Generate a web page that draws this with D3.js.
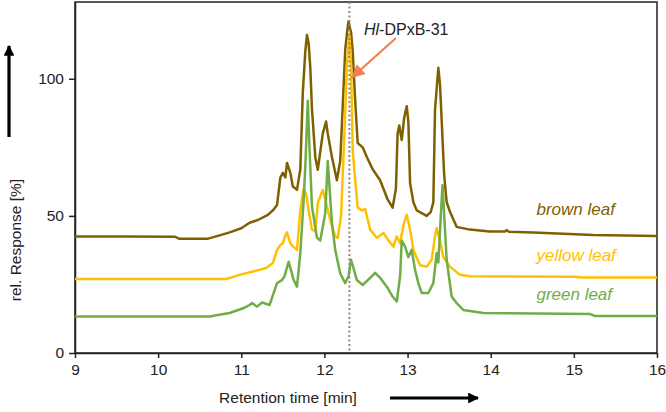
<!DOCTYPE html>
<html>
<head>
<meta charset="utf-8">
<script src="https://cdn.jsdelivr.net/npm/d3@7"></script>
<style>
  body { margin: 0; background: #fff; }
  svg { font-family: "Liberation Sans", Arial, sans-serif; }
</style>
</head>
<body>
<div class="chart"></div>
<script>
// Chromatogram traces, [retention time (min), rel. response (%)]
var brownLeaf = [
    [9.0, 42.5], [9.6, 42.5], [10.2, 42.4], [10.25, 41.7], [10.6, 41.7], [10.75, 43], [10.86, 44.0],
    [11.0, 45.5], [11.1, 47.5], [11.2, 48.5], [11.32, 50.4], [11.38, 52], [11.43, 54], [11.47, 64],
    [11.50, 65.7], [11.53, 64], [11.55, 69.3], [11.59, 65.7], [11.62, 60.7], [11.67, 59.5], [11.71, 67],
    [11.74, 95], [11.77, 110], [11.79, 116], [11.81, 113], [11.83, 104], [11.85, 89], [11.89, 71.5],
    [11.92, 66.8], [11.98, 80], [12.02, 84.4], [12.04, 80], [12.09, 71.5], [12.15, 63], [12.19, 70],
    [12.22, 90], [12.25, 110.6], [12.28, 119], [12.29, 121], [12.31, 118], [12.32, 117], [12.34, 110],
    [12.37, 92], [12.40, 76.6], [12.46, 75], [12.51, 71.5], [12.58, 67], [12.67, 63], [12.76, 56],
    [12.82, 53], [12.86, 60], [12.88, 80], [12.90, 83], [12.93, 77.7], [12.96, 86], [12.99, 90],
    [13.01, 84], [13.03, 62], [13.07, 55], [13.11, 52], [13.23, 50], [13.28, 51.5], [13.31, 55],
    [13.33, 88.7], [13.37, 104], [13.39, 98], [13.41, 85], [13.44, 65], [13.47, 55], [13.51, 51.5],
    [13.59, 46], [13.75, 45], [13.99, 44.3], [14.17, 44.3], [14.19, 44.8], [14.22, 44.2], [14.51, 43.9],
    [15.23, 43], [16.0, 42.7]
];

var yellowLeaf = [
    [9.0, 27], [10.82, 27], [10.98, 28.5], [11.14, 29.7], [11.30, 31], [11.38, 32.8], [11.43, 37.6],
    [11.47, 39.4], [11.50, 40], [11.52, 42], [11.55, 44], [11.59, 40], [11.62, 38.8], [11.67, 37.6],
    [11.71, 52], [11.75, 60], [11.78, 58], [11.81, 52], [11.85, 45], [11.89, 44.4], [11.92, 54.7],
    [11.98, 59.5], [12.02, 54.7], [12.07, 48.5], [12.13, 42.5], [12.16, 42], [12.20, 50], [12.24, 80],
    [12.27, 105], [12.30, 116], [12.32, 105], [12.34, 74], [12.37, 63], [12.40, 53], [12.45, 52],
    [12.49, 52.5], [12.55, 45], [12.63, 42], [12.71, 43.8], [12.77, 41], [12.83, 38.8], [12.87, 42.5],
    [12.91, 40], [12.95, 46.7], [12.99, 50.4], [13.03, 45], [13.07, 37.6], [13.15, 32], [13.23, 31.5],
    [13.29, 34], [13.33, 42.5], [13.35, 45.6], [13.39, 41], [13.43, 35], [13.51, 31.5], [13.63, 28.5],
    [13.75, 28], [15.0, 27.8], [15.1, 27.5], [16.0, 27.5]
];

var greenLeaf = [
    [9.0, 13.3], [10.63, 13.3], [10.7, 13.8], [10.86, 14.6], [11.03, 16.4], [11.1, 17.5], [11.13, 18.2],
    [11.19, 16.9], [11.25, 18.4], [11.34, 17.5], [11.43, 25.5], [11.49, 26.6], [11.52, 28], [11.57, 33.3],
    [11.63, 26.6], [11.67, 24.2], [11.71, 36.5], [11.75, 55.8], [11.77, 68], [11.80, 92], [11.82, 75],
    [11.85, 53.5], [11.91, 42], [11.95, 41], [12.01, 51], [12.04, 70], [12.09, 47.5], [12.13, 37.6],
    [12.19, 29], [12.25, 25.5], [12.29, 28], [12.32, 34], [12.34, 32], [12.39, 26.6], [12.46, 24.8],
    [12.55, 27.4], [12.61, 29.2], [12.67, 27.4], [12.75, 24.2], [12.82, 20.6], [12.87, 18.8], [12.91, 28],
    [12.93, 41], [12.97, 38.8], [13.01, 35], [13.05, 37.6], [13.09, 30.3], [13.13, 25.5], [13.17, 21.9],
    [13.25, 21.9], [13.31, 25.5], [13.35, 36.5], [13.37, 33], [13.41, 55.8], [13.42, 61.3], [13.47, 34],
    [13.53, 20.6], [13.59, 18.2], [13.63, 17], [13.67, 15.7], [13.91, 14.6], [15.2, 14.2], [15.25, 13.5],
    [16.0, 13.5]
];

var xTicks = [9, 10, 11, 12, 13, 14, 15, 16];
var yTicks = [0, 50, 100];
var markerTime = 12.3;
var seriesNames = ["brown leaf", "yellow leaf", "green leaf"];

var width = 666,
    height = 412,
    margin = { top: 2, right: 9, bottom: 59, left: 75 };

var xScale = d3.scaleLinear()
    .domain([9, 16])
    .range([margin.left, width - margin.right]);

var yScale = d3.scaleLinear()
    .domain([0, 128])
    .range([height - margin.bottom, margin.top]);

var svg = d3.select(".chart")
    .append("svg")
    .attr("width", width)
    .attr("height", height);

// Frame round the plot
svg.append("rect")
    .attr("x", xScale(9))
    .attr("y", yScale(128))
    .attr("width", xScale(16) - xScale(9))
    .attr("height", yScale(0) - yScale(128))
    .attr("fill", "none")
    .attr("stroke", "#222")
    .attr("stroke-width", 1.5);

// Axes
var xAxis = svg.append("g")
    .attr("transform", "translate(0," + yScale(0) + ")")
    .call(d3.axisBottom(xScale).tickValues(xTicks).tickFormat(d3.format("d"))
        .tickSize(5).tickSizeOuter(0).tickPadding(6));

var yAxis = svg.append("g")
    .attr("transform", "translate(" + xScale(9) + ",0)")
    .call(d3.axisLeft(yScale).tickValues(yTicks).tickFormat(d3.format("d"))
        .tickSize(6).tickSizeOuter(0).tickPadding(5));

[xAxis, yAxis].forEach((ax) => {
    ax.select(".domain").attr("stroke", "#222").attr("stroke-width", 1.5);
    ax.selectAll(".tick line").attr("stroke", "#222").attr("stroke-width", 1.5);
    ax.selectAll(".tick text")
        .attr("font-size", 15.5)
        .attr("font-family", "Liberation Sans, Arial, sans-serif")
        .attr("fill", "#222");
});

// Traces
var line = d3.line()
    .x((d) => { return xScale(d[0]); })
    .y((d) => { return yScale(d[1]); });

var traces = [
    { name: seriesNames[0], data: brownLeaf, color: "#7F6000" },
    { name: seriesNames[1], data: yellowLeaf, color: "#FFC000" },
    { name: seriesNames[2], data: greenLeaf, color: "#70AD47" }
];

svg.selectAll("path.trace")
    .data(traces)
    .enter()
    .append("path")
    .attr("class", "trace")
    .attr("d", (d) => { return line(d.data); })
    .attr("fill", "none")
    .attr("stroke", (d) => { return d.color; })
    .attr("stroke-width", 2.5)
    .attr("stroke-linejoin", "round");

// Series labels on the right
var labelY = [50.5, 33.5, 19.5];
svg.selectAll("text.series")
    .data(traces)
    .enter()
    .append("text")
    .attr("class", "series")
    .attr("x", xScale(14.55))
    .attr("y", (d, i) => { return yScale(labelY[i]); })
    .attr("font-size", 17)
    .attr("font-style", "italic")
    .attr("fill", (d) => { return d.color; })
    .text((d) => { return d.name; });

// Dotted marker line
svg.append("line")
    .attr("x1", xScale(markerTime))
    .attr("x2", xScale(markerTime))
    .attr("y1", yScale(128))
    .attr("y2", yScale(0))
    .attr("stroke", "#888")
    .attr("stroke-width", 2)
    .attr("stroke-dasharray", "2,2.5");

// Annotation
var note = svg.append("text")
    .attr("x", 364)
    .attr("y", 35)
    .attr("font-size", 16)
    .attr("fill", "#222");
note.append("tspan").attr("font-style", "italic").text("Hl");
note.append("tspan").text("-DPxB-31");

svg.append("defs").append("marker")
    .attr("id", "orangeHead")
    .attr("viewBox", "0 0 10 10")
    .attr("refX", 10)
    .attr("refY", 5)
    .attr("markerWidth", 6.5)
    .attr("markerHeight", 6)
    .attr("markerUnits", "strokeWidth")
    .attr("orient", "auto")
    .append("path")
    .attr("d", "M0,0 L10,5 L0,10 z")
    .attr("fill", "#F47F4F");

svg.append("line")
    .attr("x1", 396)
    .attr("y1", 38)
    .attr("x2", xScale(markerTime) + 2)
    .attr("y2", 78)
    .attr("stroke", "#F47F4F")
    .attr("stroke-width", 2.2)
    .attr("marker-end", "url(#orangeHead)");

// Axis titles and direction arrows
svg.append("defs").append("marker")
    .attr("id", "blackHead")
    .attr("viewBox", "0 0 10 10")
    .attr("refX", 9)
    .attr("refY", 5)
    .attr("markerWidth", 3.6)
    .attr("markerHeight", 3.4)
    .attr("orient", "auto")
    .append("path")
    .attr("d", "M0,0 L10,5 L0,10 z")
    .attr("fill", "#000");

svg.append("text")
    .attr("transform", "translate(21,240) rotate(-90)")
    .attr("text-anchor", "middle")
    .attr("font-size", 15.5)
    .attr("fill", "#222")
    .text("rel. Response [%]");

svg.append("line")
    .attr("x1", 9).attr("y1", 137)
    .attr("x2", 9).attr("y2", 46)
    .attr("stroke", "#000")
    .attr("stroke-width", 3.2)
    .attr("marker-end", "url(#blackHead)");

svg.append("text")
    .attr("x", 288)
    .attr("y", 403)
    .attr("text-anchor", "middle")
    .attr("font-size", 15.5)
    .attr("fill", "#222")
    .text("Retention time [min]");

svg.append("line")
    .attr("x1", 390).attr("y1", 398)
    .attr("x2", 478).attr("y2", 398)
    .attr("stroke", "#000")
    .attr("stroke-width", 3.2)
    .attr("marker-end", "url(#blackHead)");
</script>
</body>
</html>
